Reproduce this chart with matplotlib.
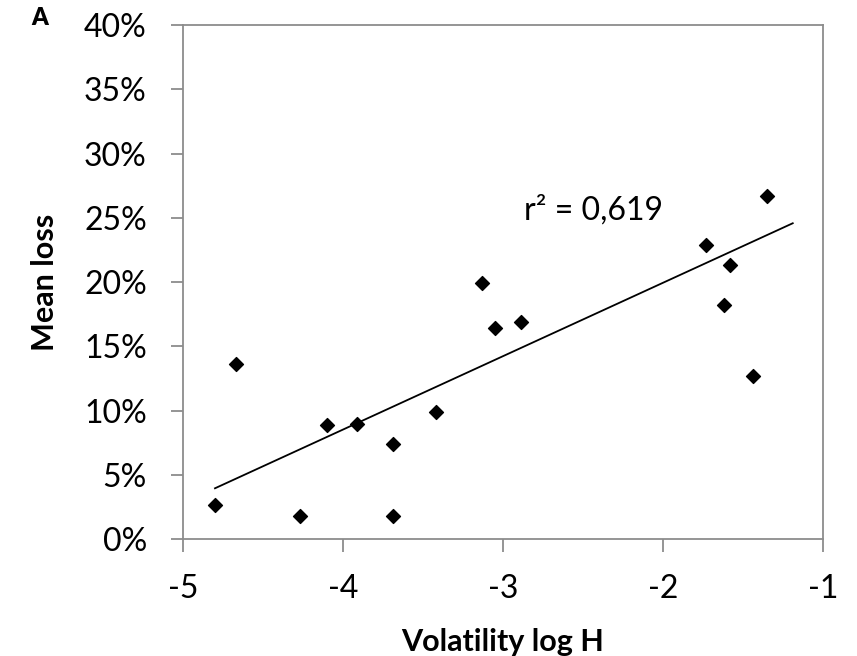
import numpy as np
import matplotlib
matplotlib.use('Agg')
from matplotlib import pyplot as plt
from matplotlib.ticker import PercentFormatter

# data
log_h = [-4.80, -4.67, -4.27, -4.10, -3.91, -3.69, -3.69, -3.42, -3.13,
         -3.05, -2.89, -1.73, -1.58, -1.62, -1.44, -1.35]
mean_loss = [2.7, 13.6, 1.8, 8.9, 9.0, 7.4, 1.8, 9.9, 19.9,
             16.4, 16.9, 22.9, 21.3, 18.2, 12.7, 26.7]
# linear trend as drawn in the original (slope, intercept in % per unit)
trend_slope = 5.71
trend_intercept = 31.37
trend_end = -1.19
r2_text = 'r² = 0,619'

plt.rcParams['font.family'] = ['Lato', 'DejaVu Sans']
plt.rcParams['axes.unicode_minus'] = False
fig = plt.figure(figsize=(8.57, 6.56), dpi=100)
ax = fig.add_axes([0.2135, 0.178, 0.747, 0.784])

x = np.array(log_h)
y = np.array(mean_loss)
xl = np.array([x.min(), trend_end])
ax.plot(xl, trend_slope * xl + trend_intercept, color='black', lw=1.3)
ax.scatter(x, y, marker='D', s=50, color='black', zorder=3)

ax.set_xlim(-5, -1)
ax.set_ylim(0, 40)
ax.set_xticks([-5, -4, -3, -2, -1])
ax.set_yticks(np.arange(0, 41, 5))
ax.yaxis.set_major_formatter(PercentFormatter(decimals=0))
ax.tick_params(labelsize=23, length=9, width=1.3, color='#8c8c8c')
ax.tick_params(axis='y', pad=17)
ax.tick_params(axis='x', pad=16)
for s in ax.spines.values():
    s.set_color('#8c8c8c')
    s.set_linewidth(1.3)

ax.set_xlabel('Volatility log H', fontsize=22, fontweight='bold', labelpad=17)
ax.set_ylabel('Mean loss', fontsize=22, fontweight='bold', labelpad=18)
ax.text(-2.87, 25.6, r2_text, fontsize=23, va='center')
fig.text(0.036, 0.972, 'A', fontsize=17, fontweight='heavy', va='center')

plt.savefig('out.png', dpi=100)
